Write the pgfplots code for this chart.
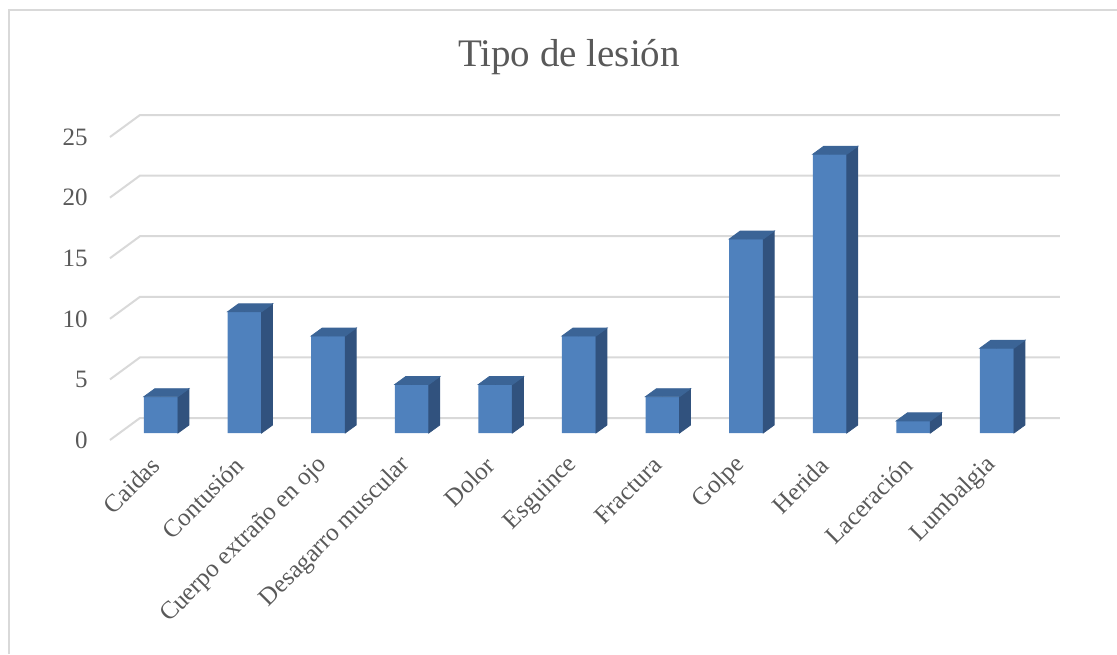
\documentclass[border=0pt]{standalone}
\usepackage{fontspec}
\setmainfont{Liberation Serif}
\usepackage{pgfplots}
\pgfplotsset{compat=1.18}
\usepackage{pgfplotstable}
\definecolor{txt}{HTML}{595959}
\definecolor{gridc}{HTML}{D9D9D9}
\definecolor{frontc}{HTML}{4F81BD}
\definecolor{sidec}{HTML}{31527E}
\definecolor{topc}{HTML}{3B6496}

\pgfplotstableread{
idx v
0 3
1 10
2 8
3 4
4 4
5 8
6 3
7 16
8 23
9 1
10 7
}\lesion

\begin{document}
\begin{tikzpicture}
\path[use as bounding box] (0pt,0pt) rectangle (558.5pt,-327pt);
% frame
\draw[gridc, line width=1pt] (4.5pt,-327pt) -- (4.5pt,-5pt) -- (558.5pt,-5pt);
\node[txt, font=\fontsize{19.5}{23}\selectfont, anchor=base] at (284.5pt,-33pt) {Tipo de lesión};
\begin{axis}[
  at={(62.5pt,-216.5pt)}, anchor=south west,
  x=41.8pt, y=6.06pt,
  xmin=-0.43, xmax=10.57, ymin=0, ymax=25,
  clip=false,
  axis line style={draw=none},
  major tick length=0pt,
  ytick={0,5,...,25},
  xtick={0,...,10},
  xticklabels={Caidas, Contusión, Cuerpo extraño en ojo, Desagarro muscular, Dolor, Esguince, Fractura, Golpe, Herida, Laceración, Lumbalgia},
  ticklabel style={font=\fontsize{12.5}{15}\selectfont, text=txt},
  /pgf/number format/assume math mode=true,
  yticklabel style={inner sep=0pt, anchor=east, xshift=-18.5pt, yshift=-3.5pt},
  xticklabel style={xshift=-2.5pt, yshift=-14pt, rotate=45, anchor=east, inner sep=0pt},
]
% perspective gridlines (back wall + side floor edge)
\pgfplotsinvokeforeach{0,5,10,15,20,25}{
  \draw[gridc, line width=1pt] (axis cs:-0.610,{#1-0.578}) -- (axis cs:-0.251,{#1+1.238}) -- (axis cs:10.754,{#1+1.238});
}
% front faces
\addplot[ybar, bar width=17pt, bar shift=0pt, fill=frontc, draw=none] table[x=idx,y=v]{\lesion};
% side and top faces
\addplot[only marks, mark=*, mark size=0pt, scatter,
  visualization depends on={rawy \as \val},
  scatter/@pre marker code/.code={%
    \pgfmathsetlengthmacro\h{\val*6.06pt}%
    \fill[sidec] (8.5pt,0pt) -- ++(5.5pt,4pt) -- ++(0pt,-\h) -- ++(-5.5pt,-4pt) -- cycle;
    \fill[topc] (-8.5pt,0pt) -- (8.5pt,0pt) -- ++(5.5pt,4pt) -- ++(-17pt,0pt) -- cycle;
  },
  scatter/@post marker code/.code={},
] table[x=idx,y=v]{\lesion};
\end{axis}
\end{tikzpicture}
\end{document}
